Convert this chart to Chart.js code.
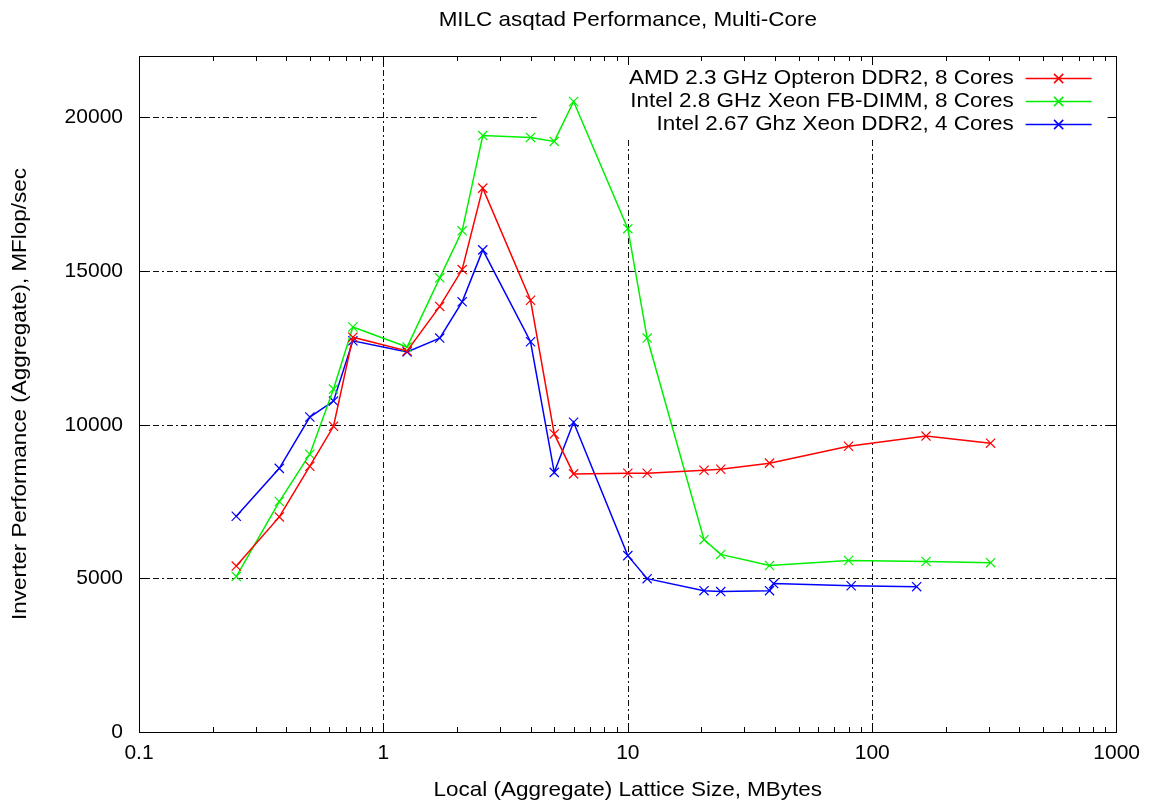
<!DOCTYPE html>
<html>
<head>
<meta charset="utf-8">
<script src="https://cdn.jsdelivr.net/npm/chart.js@4/dist/chart.umd.min.js"></script>
<style>
  html, body { margin:0; padding:0; background:#fff; }
  #wrap { width:1149px; height:802px; }
</style>
</head>
<body>
<div id="wrap"><canvas id="c"></canvas></div>
<script>
// ── DATA ─────────────────────────────────────────────────────────
const chartTitle = 'MILC asqtad Performance, Multi-Core';
const xTitle = 'Local (Aggregate) Lattice Size, MBytes';
const yTitle = 'Inverter Performance (Aggregate), MFlop/sec';

const seriesNames  = ['AMD 2.3 GHz Opteron DDR2, 8 Cores', 'Intel 2.8 GHz Xeon FB-DIMM, 8 Cores', 'Intel 2.67 Ghz Xeon DDR2, 4 Cores'];
const seriesColors = ['#ff0000', '#00f000', '#0000ff'];

const xAmd   = [0.25, 0.375, 0.5, 0.625, 0.75, 1.25, 1.7, 2.1, 2.55, 4, 5, 6, 10, 12, 20.5, 24, 38, 80, 166, 305];
const yAmd   = [5400, 7000, 8650, 9950, 12850, 12400, 13850, 15050, 17700, 14050, 9700, 8400, 8420, 8420, 8520, 8550, 8750, 9300, 9630, 9400];

const xFbdimm = [0.25, 0.375, 0.5, 0.625, 0.75, 1.25, 1.7, 2.1, 2.55, 4, 5, 6, 10, 12, 20.5, 24, 38, 80, 166, 305];
const yFbdimm = [5060, 7500, 9040, 11160, 13180, 12530, 14780, 16310, 19410, 19350, 19220, 20520, 16380, 12820, 6260, 5780, 5420, 5580, 5550, 5510];

const xXeon4 = [0.25, 0.375, 0.5, 0.625, 0.75, 1.25, 1.7, 2.1, 2.55, 4, 5, 6, 10, 12, 20.5, 24, 38, 39.5, 82, 152];
const yXeon4 = [7020, 8580, 10250, 10770, 12730, 12370, 12820, 14000, 15690, 12700, 8450, 10080, 5740, 4990, 4600, 4570, 4600, 4830, 4760, 4730];

const xTicks = [0.1, 1, 10, 100, 1000];
const yTicks = [0, 5000, 10000, 15000, 20000];
const yMax = 22000;

const FONT = '"Liberation Sans", Arial, Helvetica, sans-serif';
const STRETCH = 1.07;   // gnuplot text is a bit wider than Arial
const pts = (xs, ys) => xs.map((x, i) => ({ x, y: ys[i] }));

function wideText(ctx, text, x, y, align, rot) {
  ctx.save();
  ctx.translate(x, y);
  if (rot) ctx.rotate(rot);
  ctx.scale(STRETCH, 1);
  ctx.textAlign = align;
  ctx.textBaseline = 'middle';
  ctx.fillText(text, 0, 0);
  ctx.restore();
}

// ── FRAME: grid, key area, border, ticks (gnuplot style) ─────────
const frame = {
  id: 'frame',
  beforeDatasetsDraw(chart) {
    const { ctx, chartArea: a, scales: { x, y } } = chart;
    ctx.save();
    ctx.lineWidth = 1;
    ctx.strokeStyle = '#111';
    ctx.setLineDash([6, 3, 2, 3]);
    ctx.beginPath();
    yTicks.slice(1).forEach(v => {
      const py = Math.round(y.getPixelForValue(v)) + 0.5;
      ctx.moveTo(a.left, py); ctx.lineTo(a.right, py);
    });
    xTicks.slice(1, -1).forEach(v => {
      const px = Math.round(x.getPixelForValue(v)) + 0.5;
      ctx.moveTo(px, a.top); ctx.lineTo(px, a.bottom);
    });
    ctx.stroke();
    ctx.setLineDash([]);

    // key area is left clear of grid lines
    ctx.fillStyle = '#fff';
    ctx.fillRect(a.right - 580, a.top + 1, 579, 81);

    // border
    ctx.strokeStyle = '#000';
    ctx.strokeRect(Math.round(a.left) + 0.5, Math.round(a.top) + 0.5, Math.round(a.right - a.left) - 1, Math.round(a.bottom - a.top));

    // tick marks, mirrored on all sides
    ctx.beginPath();
    for (let d = 0.1; d < 1000; d *= 10) {
      for (let k = 1; k <= 9; k++) {
        const v = d * k;
        const len = k === 1 ? 9 : 5;
        const px = Math.round(x.getPixelForValue(v)) + 0.5;
        ctx.moveTo(px, a.bottom); ctx.lineTo(px, a.bottom - len);
        ctx.moveTo(px, a.top); ctx.lineTo(px, a.top + len);
      }
    }
    yTicks.forEach(v => {
      const py = Math.round(y.getPixelForValue(v)) + 0.5;
      ctx.moveTo(a.left, py); ctx.lineTo(a.left + 9, py);
      ctx.moveTo(a.right, py); ctx.lineTo(a.right - 9, py);
    });
    ctx.stroke();
    ctx.restore();
  }
};

// ── TITLES + KEY ─────────────────────────────────────────────────
const overlay = {
  id: 'overlay',
  afterDraw(chart) {
    const { ctx, chartArea: a } = chart;
    const cx = (a.left + a.right) / 2, cy = (a.top + a.bottom) / 2;
    ctx.save();
    ctx.fillStyle = '#000';
    ctx.font = '21px ' + FONT;
    wideText(ctx, chartTitle, cx, 20, 'center');
    wideText(ctx, xTitle, cx, 790, 'center');
    wideText(ctx, yTitle, 20, cy, 'center', -Math.PI / 2);

    chart.data.datasets.forEach((ds, i) => {
      const ry = a.top + 22 + i * 23;
      ctx.fillStyle = '#000';
      wideText(ctx, ds.label, a.right - 103, ry, 'right');
      ctx.strokeStyle = ds.borderColor;
      ctx.lineWidth = 1.5;
      ctx.beginPath();
      ctx.moveTo(a.right - 91, ry + 0.5); ctx.lineTo(a.right - 25, ry + 0.5);
      ctx.stroke();
      Chart.helpers.drawPoint(ctx, { pointStyle: 'crossRot', radius: 6.5, borderWidth: 1.2 }, a.right - 58, ry + 0.5);
    });
    ctx.restore();
  }
};

const datasets = [pts(xAmd, yAmd), pts(xFbdimm, yFbdimm), pts(xXeon4, yXeon4)].map((data, i) => ({
  label: seriesNames[i],
  data,
  borderColor: seriesColors[i],
  backgroundColor: seriesColors[i],
  borderWidth: 1.5,
  pointStyle: 'crossRot',
  pointRadius: 6.5,
  pointHoverRadius: 6.5,
  pointBorderWidth: 1.2,
  tension: 0,
  fill: false
}));

new Chart(document.getElementById('c'), {
  type: 'line',
  data: { datasets },
  options: {
    responsive: true,
    maintainAspectRatio: false,
    animation: false,
    devicePixelRatio: 1,
    layout: { padding: { left: 0, right: 32, top: 56, bottom: 0 } },
    plugins: { legend: { display: false }, tooltip: { enabled: false }, title: { display: false } },
    scales: {
      x: {
        type: 'logarithmic', min: 0.1, max: 1000,
        afterBuildTicks: s => { s.ticks = xTicks.map(v => ({ value: v })); },
        afterFit: s => { s.height = 70; },
        grid: { display: false, drawTicks: false }, border: { display: false },
        ticks: { color: '#000', font: { family: FONT, size: 21 }, padding: 9, maxRotation: 0, autoSkip: false, callback: v => String(v) }
      },
      y: {
        type: 'linear', min: 0, max: yMax,
        afterBuildTicks: s => { s.ticks = yTicks.map(v => ({ value: v })); },
        afterFit: s => { s.width = 139; },
        grid: { display: false, drawTicks: false }, border: { display: false },
        ticks: { color: '#000', font: { family: FONT, size: 21 }, padding: 16, callback: v => String(v) }
      }
    }
  },
  plugins: [frame, overlay]
});
</script>
</body>
</html>
